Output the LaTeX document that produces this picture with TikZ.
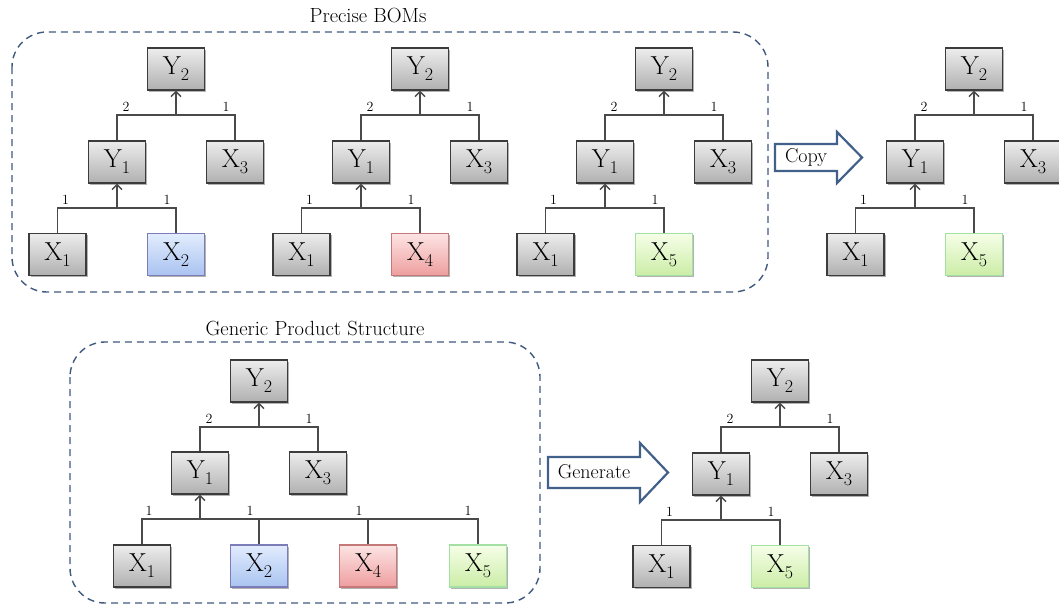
\documentclass[tikz,border=0pt]{standalone}
\usepackage{fontspec}
\usetikzlibrary{arrows.meta,shadows,calc}

\definecolor{gtop}{HTML}{EDEDED}
\definecolor{gbot}{HTML}{B0B0B0}
\definecolor{btop}{HTML}{E2ECFD}
\definecolor{bbot}{HTML}{A9C3F0}
\definecolor{rtop}{HTML}{FDE4E4}
\definecolor{rbot}{HTML}{EE9E9E}
\definecolor{ltop}{HTML}{F6FEE8}
\definecolor{lbot}{HTML}{CBEDA6}
\definecolor{boxedge}{HTML}{3C3C3C}
\definecolor{linkc}{HTML}{4A4A4A}
\definecolor{dashc}{HTML}{3F5A7E}
\definecolor{arrowc}{HTML}{41608A}

% part label: letter with a lowered index
\newcommand\pn[2]{#1\raisebox{-6pt}{\fontsize{18}{18}\selectfont #2}}

\tikzset{
  part/.style={line width=1.1pt, minimum width=57pt, minimum height=42pt,
    inner sep=0pt, font=\fontsize{26}{26}\selectfont,
    drop shadow={shadow xshift=1.5pt, shadow yshift=-1.5pt, opacity=0.3, fill=black}},
  grey part/.style={part, draw=boxedge, top color=gtop, bottom color=gbot},
  blue part/.style={part, draw=boxedge!60!blue!60, top color=btop, bottom color=bbot},
  red part/.style={part, draw=boxedge!50!red!60, top color=rtop, bottom color=rbot},
  green part/.style={part, draw=boxedge!40!green!40, top color=ltop, bottom color=lbot},
  link/.style={draw=linkc, line width=1.4pt},
  up/.style={link, -{Straight Barb[length=5pt,width=10pt]}},
  qty/.style={font=\fontsize{14}{14}\selectfont, inner sep=0pt},
  groupbox/.style={draw=dashc, line width=1.4pt, dash pattern=on 7pt off 5pt, rounded corners=35pt},
  grouptitle/.style={font=\fontsize{20.5}{20.5}\selectfont, inner sep=0pt},
  blockarrow/.style={draw=arrowc, fill=white, line width=2.2pt, line join=miter},
  arrowtext/.style={font=\fontsize{20}{20}\selectfont, inner sep=0pt},
}

% two-level BOM tree: Y2 <- (Y1, X3), Y1 <- (X1, second leaf)
% #1 name prefix, #2 root x, #3 root y, #4 style of second leaf, #5 its index
\newcommand\bomtree[5]{%
  \node[grey part] (#1y2) at (#2, #3) {\pn{Y}{2}};
  \node[grey part] (#1y1) at (#2-59, #3+93) {\pn{Y}{1}};
  \node[grey part] (#1x3) at (#2+59, #3+93) {\pn{X}{3}};
  \node[grey part] (#1x1) at (#2-118.5, #3+185.5) {\pn{X}{1}};
  \node[#4] (#1xv) at (#2, #3+185.5) {\pn{X}{#5}};
  \coordinate (#1j2) at (#2, #3+46);
  \coordinate (#1j1) at (#2-59, #3+139);
  \draw[link] (#1y1.north) -- (#1y1.north |- #1j2) -- (#1x3.north |- #1j2) -- (#1x3.north);
  \draw[up] (#1j2) -- (#1y2.south);
  \draw[link] (#1x1.north) -- (#1x1.north |- #1j1) -- (#1xv.north |- #1j1) -- (#1xv.north);
  \draw[up] (#1j1) -- (#1y1.south);
  \node[qty] (#1qa) at ($(#1y1.north |- #1j2)+(9,-8)$) {2};
  \node[qty] (#1qb) at ($(#1x3.north |- #1j2)+(-9,-8)$) {1};
  \node[qty] (#1qc) at ($(#1x1.north |- #1j1)+(8,-8)$) {1};
  \node[qty] (#1qd) at ($(#1xv.north |- #1j1)+(-9,-8)$) {1};
}

\begin{document}
\begin{tikzpicture}[x=1pt, y=-1pt]
  \clip (0,0) rectangle (1059,605);
  \fill[white] (0,0) rectangle (1059,605);

  % ---- precise BOMs ----
  \draw[groupbox] (12,32) rectangle (768,292);
  \node[grouptitle] (preciseTitle) at (368,15) {Precise BOMs};
  \bomtree{a}{176}{69}{blue part}{2}
  \bomtree{b}{420}{69}{red part}{4}
  \bomtree{c}{664}{69}{green part}{5}

  % copy arrow and copied BOM
  \draw[blockarrow] (775,144) -- (837,144) -- (837,132) -- (862,157.5)
    -- (837,183) -- (837,171) -- (775,171) -- cycle;
  \node[arrowtext] (copyText) at (806,158) {Copy};
  \bomtree{d}{974}{69}{green part}{5}

  % ---- generic product structure ----
  \draw[groupbox] (70,342) rectangle (540,603);
  \node[grouptitle] (genericTitle) at (315,328) {Generic Product Structure};
  \node[grey part] (gy2) at (259,381) {\pn{Y}{2}};
  \node[grey part] (gy1) at (200,473) {\pn{Y}{1}};
  \node[grey part] (gx3) at (318,473) {\pn{X}{3}};
  \node[grey part] (gx1) at (142,566) {\pn{X}{1}};
  \node[blue part] (gx2) at (259,566) {\pn{X}{2}};
  \node[red part] (gx4) at (368,566) {\pn{X}{4}};
  \node[green part] (gx5) at (478,566) {\pn{X}{5}};
  \coordinate (gj2) at (259,427);
  \coordinate (gj1) at (200,519);
  \draw[link] (gy1.north) -- (gy1.north |- gj2) -- (gx3.north |- gj2) -- (gx3.north);
  \draw[up] (gj2) -- (gy2.south);
  \draw[link] (gx1.north) -- (gx1.north |- gj1) -- (gx5.north |- gj1) -- (gx5.north);
  \draw[link] (gx2.north) -- (gx2.north |- gj1);
  \draw[link] (gx4.north) -- (gx4.north |- gj1);
  \draw[up] (gj1) -- (gy1.south);
  \node[qty] (gqa) at ($(gy1.north |- gj2)+(9,-8)$) {2};
  \node[qty] (gqb) at ($(gx3.north |- gj2)+(-9,-8)$) {1};
  \node[qty] (gqc) at ($(gx1.north |- gj1)+(7,-8)$) {1};
  \node[qty] (gqd) at ($(gx2.north |- gj1)+(-9,-8)$) {1};
  \node[qty] (gqe) at ($(gx4.north |- gj1)+(-9,-8)$) {1};
  \node[qty] (gqf) at ($(gx5.north |- gj1)+(-10,-8)$) {1};

  % generate arrow and generated BOM
  \draw[blockarrow] (548,457) -- (640,457) -- (640,443) -- (668,472.5)
    -- (640,502) -- (640,488) -- (548,488) -- cycle;
  \node[arrowtext] (generateText) at (594,472) {Generate};
  \bomtree{e}{780}{381}{green part}{5}
\end{tikzpicture}
\end{document}
